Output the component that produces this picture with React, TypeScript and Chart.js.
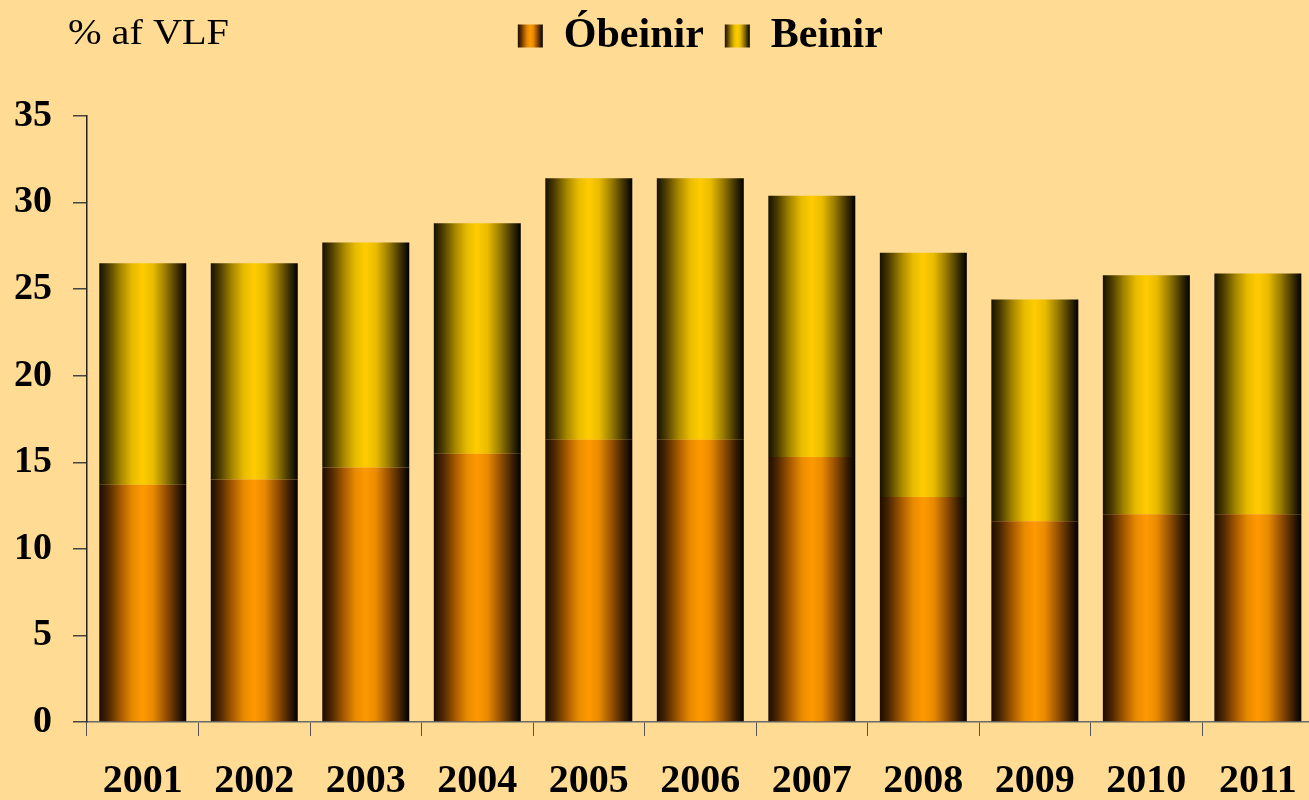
import React, { useEffect, useRef } from 'react';
import { Chart, registerables } from 'chart.js';

Chart.register(...registerables);

// ---- data ----
const YEARS = ['2001', '2002', '2003', '2004', '2005', '2006', '2007', '2008', '2009', '2010', '2011'];
const OBEINIR = [13.7, 14.0, 14.7, 15.5, 16.3, 16.3, 15.3, 13.0, 11.6, 12.0, 12.0];
const BEINIR = [12.8, 12.5, 13.0, 13.3, 15.1, 15.1, 15.1, 14.1, 12.8, 13.8, 13.9];
const SERIES_NAMES = ['Óbeinir', 'Beinir'];
const UNIT_LABEL = '% af VLF';
const Y_MIN = 0;
const Y_MAX = 35;
const Y_STEP = 5;

// ---- styles ----
const FONT = '"Liberation Serif", "Times New Roman", Times, serif';
const BG = '#FFDB94';
const BAR_PCT = 0.78;
const ORANGE_STOPS: [number, string][] = [
  [0, '#1c0c00'],
  [0.1, '#4a2600'],
  [0.25, '#a85a00'],
  [0.38, '#e88a00'],
  [0.5, '#ff9900'],
  [0.62, '#e88a00'],
  [0.76, '#9a5200'],
  [0.9, '#3e2000'],
  [1, '#000000'],
];
const YELLOW_STOPS: [number, string][] = [
  [0, '#161100'],
  [0.1, '#4a3b00'],
  [0.25, '#a88800'],
  [0.38, '#e8bb00'],
  [0.5, '#ffcc00'],
  [0.62, '#e8bb00'],
  [0.76, '#9a7c00'],
  [0.9, '#3e3200'],
  [1, '#000000'],
];

function makeGradient(ctx: CanvasRenderingContext2D, x0: number, x1: number, stops: [number, string][]) {
  const g = ctx.createLinearGradient(x0, 0, x1, 0);
  stops.forEach(([o, c]) => g.addColorStop(o, c));
  return g;
}

export default function App() {
  const ref = useRef<HTMLCanvasElement>(null);

  useEffect(() => {
    const canvas = ref.current!;
    const stopsByDataset = [ORANGE_STOPS, YELLOW_STOPS];

    const barFill = (stops: [number, string][], solid: string) => (c: any) => {
      const chart = c.chart;
      const xs = chart.scales && chart.scales.x;
      if (c.type !== 'data' || !xs || !xs.width) return solid;
      const cx = xs.getPixelForValue(c.dataIndex);
      const w = (xs.width / YEARS.length) * BAR_PCT;
      return makeGradient(chart.ctx, cx - w / 2, cx + w / 2, stops);
    };

    const unitLabel = {
      id: 'unitLabel',
      afterDraw(chart: any) {
        const ctx = chart.ctx as CanvasRenderingContext2D;
        ctx.save();
        ctx.font = `35px ${FONT}`;
        ctx.fillStyle = '#000';
        ctx.textBaseline = 'alphabetic';
        ctx.textAlign = 'left';
        ctx.translate(68, 44);
        ctx.scale(1.15, 1);
        ctx.fillText(UNIT_LABEL, 0, 0);
        ctx.restore();
      },
    };

    const legendGradient = {
      id: 'legendGradient',
      beforeDraw(chart: any) {
        const lg = chart.legend;
        if (!lg || !lg.legendItems || !lg.legendHitBoxes) return;
        lg.legendItems.forEach((item: any, i: number) => {
          const hb = lg.legendHitBoxes[i];
          if (!hb) return;
          item.fillStyle = makeGradient(chart.ctx, hb.left, hb.left + 25, stopsByDataset[item.datasetIndex]);
        });
      },
    };

    const chart = new Chart(canvas, {
      type: 'bar',
      data: {
        labels: YEARS,
        datasets: [
          {
            label: SERIES_NAMES[0],
            data: OBEINIR,
            backgroundColor: barFill(ORANGE_STOPS, '#ff9900'),
            borderWidth: 0,
            categoryPercentage: 1,
            barPercentage: BAR_PCT,
          },
          {
            label: SERIES_NAMES[1],
            data: BEINIR,
            backgroundColor: barFill(YELLOW_STOPS, '#ffcc00'),
            borderWidth: 0,
            categoryPercentage: 1,
            barPercentage: BAR_PCT,
          },
        ],
      },
      options: {
        responsive: false,
        animation: false,
        devicePixelRatio: 1,
        layout: { padding: { top: -6, left: 0, right: 0, bottom: 0 } },
        plugins: {
          tooltip: { enabled: false },
          title: { display: false },
          legend: {
            display: true,
            position: 'top',
            fullSize: false,
            labels: {
              color: '#000',
              boxWidth: 25,
              boxHeight: 23,
              padding: 21,
              font: { family: FONT, size: 42, weight: 'bold' },
            },
          },
        },
        scales: {
          x: {
            type: 'category',
            stacked: true,
            offset: true,
            grid: {
              offset: true,
              drawOnChartArea: false,
              drawTicks: true,
              tickLength: 14,
              tickColor: '#555',
            },
            border: { display: true, color: '#6a6a6a', width: 1.5 },
            ticks: {
              color: '#000',
              padding: 22,
              maxRotation: 0,
              autoSkip: false,
              font: { family: FONT, size: 40, weight: 'bold' },
            },
            afterFit: (s: any) => {
              s.height = 78;
            },
          },
          top: {
            type: 'category',
            position: 'top',
            display: true,
            grid: { display: false, drawTicks: false },
            border: { display: false },
            ticks: { display: false },
            afterFit: (s: any) => {
              s.height = 49;
            },
          },
          y: {
            type: 'linear',
            stacked: true,
            min: Y_MIN,
            max: Y_MAX,
            ticks: {
              stepSize: Y_STEP,
              color: '#000',
              padding: 21,
              font: { family: FONT, size: 38, weight: 'bold' },
            },
            grid: {
              drawOnChartArea: false,
              drawTicks: true,
              tickLength: 14,
              tickColor: '#444',
              lineWidth: 1.5,
            },
            border: { display: true, color: '#222', width: 1.5 },
            afterFit: (s: any) => {
              s.width = 87;
            },
          },
        },
      },
      plugins: [unitLabel, legendGradient],
    } as any);

    return () => chart.destroy();
  }, []);

  return (
    <div
      style={{
        position: 'fixed',
        left: 0,
        top: 0,
        width: 1309,
        height: 800,
        overflow: 'hidden',
        background: BG,
      }}
    >
      <canvas ref={ref} width={1319} height={800} style={{ display: 'block', width: 1319, height: 800 }} />
    </div>
  );
}
